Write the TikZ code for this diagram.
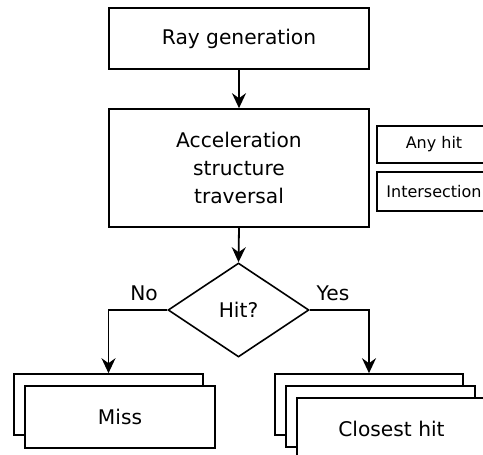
\documentclass[tikz,border=0pt]{standalone}
\usepackage{fontspec}
\setmainfont{DejaVu Sans}
\usetikzlibrary{shapes.geometric,arrows.meta}
\begin{document}
\begin{tikzpicture}[x=1pt,y=-1pt,
  box/.style={draw, line width=1.6pt, fill=white, inner sep=0pt, align=center,
    font=\fontsize{20.2}{28}\selectfont},
  smallbox/.style={draw, line width=1.6pt, fill=white, inner sep=0pt,
    minimum width=114pt, font=\fontsize{16}{20}\selectfont},
  decision/.style={draw, diamond, line width=1.6pt, inner sep=0pt, aspect=1.5,
    minimum width=141pt, minimum height=94pt, font=\fontsize{20.2}{22}\selectfont},
  lbl/.style={font=\fontsize{20.2}{22}\selectfont, inner sep=0pt},
  conn/.style={line width=1.8pt, -{Stealth[length=15pt,width=14pt,inset=5pt]}}]
\useasboundingbox (0,0) rectangle (483,455);
\clip (0,0) rectangle (483,455);
\fill[white] (0,0) rectangle (483,455);
% main boxes
\node[box, minimum width=260pt, minimum height=61pt] (rg) at (239,38.5) {Ray generation};
\node[box, minimum width=260pt, minimum height=118pt] (acc) at (239,168) {Acceleration\\structure\\traversal};
\node[smallbox, minimum height=37pt] (any) at (434,144.5) {Any hit};
\node[smallbox, minimum height=39pt] (isect) at (434,191.5) {Intersection};
\node[decision] (hit) at (238.5,310) {Hit?};
% miss stack
\node[box, minimum width=189pt, minimum height=61pt] (miss1) at (108.5,404.5) {};
\node[box, minimum width=190pt, minimum height=62pt] (miss) at (120,417) {Miss};
% closest hit stack
\node[box, minimum width=188pt, minimum height=61pt] (ch1) at (369,404.5) {};
\node[box, minimum width=189pt, minimum height=61pt] (ch2) at (380.5,416.5) {};
\node[box, minimum width=189pt, minimum height=62pt] (ch) at (391.5,429) {Closest hit};
% connectors
\draw[conn] (rg.south) -- (acc.north);
\draw[conn] (acc.south) -- (hit.north);
\draw[conn] (hit.west) -| (miss1.north);
\draw[conn] (hit.east) -| (ch1.north);
% labels
\node[lbl] (no) at (144,293) {No};
\node[lbl] (yes) at (333,293) {Yes};
\end{tikzpicture}
\end{document}
